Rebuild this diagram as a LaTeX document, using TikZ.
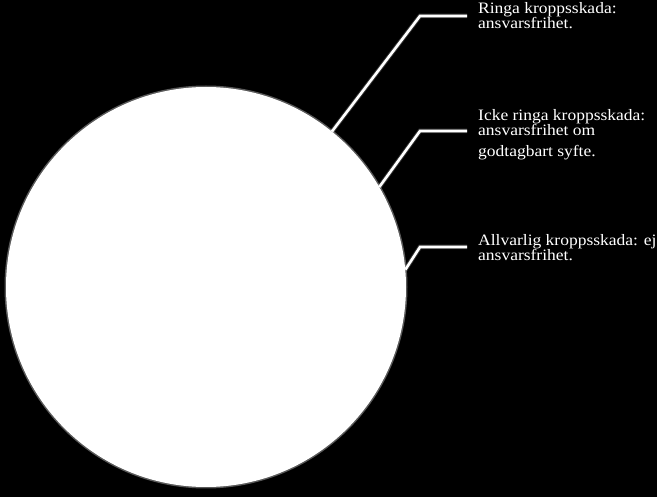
\documentclass[tikz,border=0pt]{standalone}
\usepackage{fontspec}
\setmainfont{Liberation Serif}[FakeStretch=1.1]
\begin{document}
\begin{tikzpicture}[x=1pt,y=-1pt,
  lbl/.style={text=white, align=left, inner sep=0pt, anchor=base west,
    font=\fontsize{15.9}{15}\selectfont},
  leader/.style={draw=white, line width=2.6pt, line join=miter},
  glow/.style={draw=white, draw opacity=0.2, line width=4.5pt},
  bigcircle/.style={circle, fill=white, minimum size=400pt, inner sep=0pt}]
\fill[black] (0,0) rectangle (657,497);
\useasboundingbox (0,0) rectangle (657,497);
% soft halo of the circle
\fill[white, opacity=0.35] (206,287) circle[radius=201.5pt];
\node[bigcircle] (c) at (206,287) {};
% leader corners and ends
\coordinate (k1) at (420,16);  \coordinate (e1) at (467,16);
\coordinate (k2) at (420,131); \coordinate (e2) at (467,131);
\coordinate (k3) at (420,247); \coordinate (e3) at (467,247);
\foreach \a/\k/\e in {51.7/k1/e1, 30.4/k2/e2, 5.5/k3/e3}{
  \draw[glow] (c.\a) -- (\k) -- (\e);
  \draw[leader] (c.\a) -- (\k) -- (\e);
}
% base anchor = baseline of the last line
\node[lbl] (t1) at (478,29) {Ringa kroppsskada:\\ansvarsfrihet.};
\node[lbl] (t2) at (478,157) {Icke ringa kroppsskada:\\ansvarsfrihet om\\[6pt]godtagbart syfte.};
\node[lbl] (t3) at (478,261) {Allvarlig kroppsskada: ej\\ansvarsfrihet.};
\end{tikzpicture}
\end{document}
